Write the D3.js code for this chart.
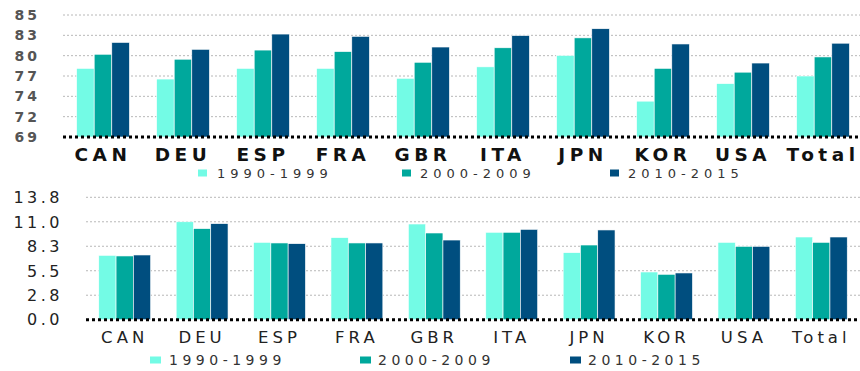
<!DOCTYPE html>
<html><head><meta charset="utf-8">
<script src="https://cdn.jsdelivr.net/npm/d3@7"></script>
<style>body{margin:0;background:#fff}svg{display:block}text{font-family:"DejaVu Sans",sans-serif}</style>
</head><body>
<svg id="c" width="860" height="371"></svg>
<script>
const categories = ["CAN","DEU","ESP","FRA","GBR","ITA","JPN","KOR","USA","Total"];
const seriesNames = ["1990-1999","2000-2009","2010-2015"];
const colors = ["#73FBE5","#00A89C","#004E7F"];
// top panel values
const top1990 = [78.0,76.6,78.0,78.0,76.7,78.2,79.7,73.7,76.0,77.0];
const top2000 = [79.85,79.2,80.4,80.2,78.8,80.7,82.0,78.0,77.5,79.5];
const top2010 = [81.4,80.5,82.5,82.2,80.8,82.3,83.2,81.2,78.7,81.3];
const topTickValues = [69,71.667,74.333,77,79.667,82.333,85];
const topTickLabels = ["69","72","74","77","80","83","85"];
// bottom panel values
const bot1990 = [7.23,11.0,8.69,9.22,10.75,9.82,7.53,5.36,8.69,9.29];
const bot2000 = [7.16,10.23,8.62,8.62,9.74,9.82,8.39,5.10,8.24,8.69];
const bot2010 = [7.27,10.79,8.54,8.62,8.95,10.15,10.08,5.25,8.24,9.29];
const botTickValues = [0,2.75,5.5,8.25,11,13.75];
const botTickLabels = ["0.0","2.8","5.5","8.3","11.0","13.8"];

const svg = d3.select("#c");

function panel(cfg){
  const g = svg.append("g");
  const x = d3.scaleBand().domain(categories).range([cfg.x0,cfg.x1]).paddingInner(cfg.pi).paddingOuter(cfg.po);
  const xs = d3.scaleBand().domain(seriesNames).range([0,x.bandwidth()]);
  const y = d3.scaleLinear().domain(cfg.domain).range([cfg.yb,cfg.yt]);
  g.selectAll("line.grid").data(cfg.ticks.slice(1)).join("line")
    .attr("x1",cfg.x0).attr("x2",860).attr("y1",d=>y(d)).attr("y2",d=>y(d))
    .attr("stroke","#b8b8b8").attr("stroke-width",1).attr("stroke-dasharray","2,2");
  g.selectAll("text.yl").data(cfg.ticks).join("text")
    .attr("x",cfg.ylx).attr("y",d=>y(d)+cfg.yfs*0.36).attr("text-anchor","end")
    .attr("font-size",cfg.yfs).attr("font-weight",cfg.yfw).attr("fill",cfg.ycol)
    .attr("letter-spacing",cfg.yls)
    .text((d,i)=>cfg.labels[i]);
  const series = cfg.series;
  categories.forEach((c,ci)=>{
    series.forEach((arr,si)=>{
      g.append("rect")
        .attr("x",x(c)+xs(seriesNames[si]))
        .attr("y",y(arr[ci]))
        .attr("width",xs.bandwidth())
        .attr("height",y(cfg.domain[0])-y(arr[ci]))
        .attr("fill",colors[si]).attr("stroke","#fff").attr("stroke-width",0.6);
    });
  });
  g.append("line").attr("x1",cfg.x0).attr("x2",860).attr("y1",y(cfg.domain[0])).attr("y2",y(cfg.domain[0]))
    .attr("stroke","#000").attr("stroke-width",3).attr("stroke-dasharray","3,3");
  g.selectAll("text.xl").data(categories).join("text")
    .attr("x",d=>x(d)+x.bandwidth()/2).attr("y",cfg.xly).attr("text-anchor","middle")
    .attr("font-family",cfg.xff)
    .attr("font-size",cfg.xfs).attr("font-weight",cfg.xfw).attr("fill",cfg.xcol)
    .attr("letter-spacing",cfg.xls).text(d=>d);
  seriesNames.forEach((s,i)=>{
    g.append("rect").attr("x",cfg.legSq[i]).attr("y",cfg.legY-cfg.legSqH-1.5).attr("width",cfg.legSqW).attr("height",cfg.legSqH).attr("fill",colors[i]);
    g.append("text").attr("x",cfg.legTx[i]).attr("y",cfg.legY).attr("font-size",cfg.lfs)
      .attr("fill","#333").attr("letter-spacing",cfg.lls).text(s);
  });
}

panel({x0:63,x1:863,pi:0.34,po:0.17,domain:[69,85],yb:137,yt:15,ticks:topTickValues,labels:topTickLabels,
  ylx:40,yfs:14,yfw:"bold",ycol:"#555",yls:3,series:[top1990,top2000,top2010],
  xly:161,xff:"'Open Sans',sans-serif",xfs:18.5,xfw:"600",xcol:"#111",xls:4.5,
  legSq:[198,402,610],legTx:[217,420,628],legY:178,legSqW:9,legSqH:7,lfs:13,lls:5});

panel({x0:86,x1:860,pi:0.33,po:0.165,domain:[0,13.75],yb:319.7,yt:197.3,ticks:botTickValues,labels:botTickLabels,
  ylx:63,yfs:16,yfw:"normal",ycol:"#222",yls:3.5,series:[bot1990,bot2000,bot2010],
  xly:342.7,xff:"'DejaVu Sans',sans-serif",xfs:16.5,xfw:"normal",xcol:"#222",xls:4,
  legSq:[150,360,570],legTx:[169,378,588],legY:365,legSqW:11,legSqH:7,lfs:14,lls:4.5});
</script>
</body></html>
